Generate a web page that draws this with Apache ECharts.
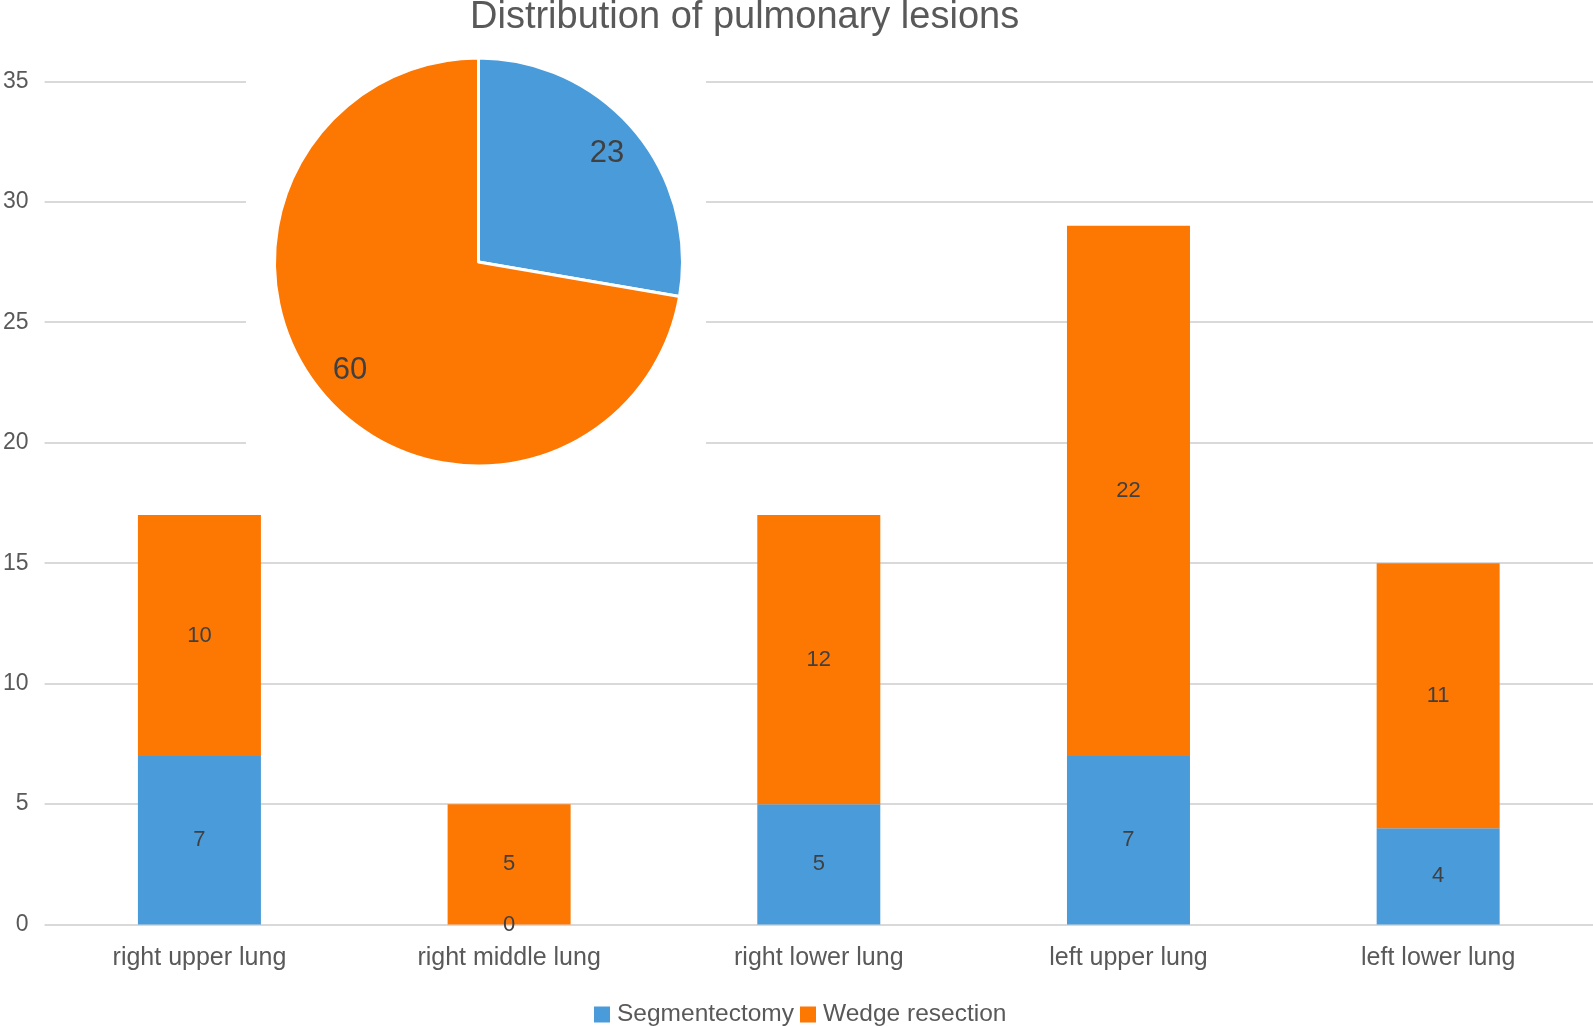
<!DOCTYPE html>
<html>
<head>
<meta charset="utf-8">
<script src="https://cdn.jsdelivr.net/npm/echarts@6/dist/echarts.min.js"></script>
<style>
html,body{margin:0;padding:0;background:#fff;}
#chart{width:1593px;height:1026px;}
</style>
</head>
<body>
<div id="chart"></div>
<script>
const categories = ['right upper lung', 'right middle lung', 'right lower lung', 'left upper lung', 'left lower lung'];
const segmentectomy = [7, 0, 5, 7, 4];
const wedgeResection = [10, 5, 12, 22, 11];
const pieNames = ['Segmentectomy', 'Wedge resection'];
const pieValues = [23, 60];
const yTicks = [0, 5, 10, 15, 20, 25, 30, 35];

const BLUE = '#4a9bda';
const ORANGE = '#fd7703';
const FONT = 'Liberation Sans, Arial, sans-serif';

const pieData = pieNames.map((n, i) => ({ name: n, value: pieValues[i], itemStyle: { color: i === 0 ? BLUE : ORANGE } }));

const chart = echarts.init(document.getElementById('chart'));
chart.setOption({
  backgroundColor: '#fff',
  animation: false,
  textStyle: { fontFamily: FONT },
  title: {
    text: 'Distribution of pulmonary lesions',
    left: 465, top: -6,
    textStyle: { fontFamily: FONT, fontSize: 38, fontWeight: 'normal', color: '#595959' }
  },
  legend: {
    data: ['Segmentectomy', 'Wedge resection'],
    left: 589, top: 997,
    icon: 'rect', itemWidth: 16, itemHeight: 16, itemGap: 6,
    textStyle: { fontFamily: FONT, fontSize: 24.5, color: '#595959', padding: [0, 0, 0, 2] }
  },
  grid: { left: 43, right: 0, top: 81.3, bottom: 101.4, containLabel: false },
  xAxis: {
    type: 'category', data: categories,
    axisLine: { show: false }, axisTick: { show: false },
    axisLabel: { fontFamily: FONT, fontSize: 25, color: '#595959', margin: 21 }
  },
  yAxis: {
    type: 'value', min: yTicks[0], max: yTicks[yTicks.length - 1], interval: 5,
    axisLine: { show: false }, axisTick: { show: false },
    axisLabel: { fontFamily: FONT, fontSize: 23, color: '#595959', margin: 16 },
    splitLine: { lineStyle: { color: '#d9d9d9', width: 2 } }
  },
  graphic: [{
    type: 'rect', z: 1, silent: true,
    shape: { x: 246, y: 40, width: 460, height: 430 },
    style: { fill: '#fff' }
  }],
  series: [
    {
      name: 'Segmentectomy', type: 'bar', stack: 'total', data: segmentectomy, barWidth: 123, z: 3,
      itemStyle: { color: BLUE },
      label: { show: true, position: 'inside', fontFamily: FONT, fontSize: 22, color: '#404040' }
    },
    {
      name: 'Wedge resection', type: 'bar', stack: 'total', data: wedgeResection, barWidth: 123, z: 3,
      itemStyle: { color: ORANGE },
      label: { show: true, position: 'inside', fontFamily: FONT, fontSize: 22, color: '#404040' }
    },
    {
      name: 'Lesions', type: 'pie', center: [478.5, 262], radius: [0, 204], z: 4,
      startAngle: 90, clockwise: true,
      data: pieData,
      itemStyle: { borderColor: '#fff', borderWidth: 3 },
      label: { show: false }, labelLine: { show: false }, silent: true
    },
    {
      name: 'LesionsLabels', type: 'pie', center: [478.5, 262], radius: [126, 204], z: 5,
      startAngle: 90, clockwise: true,
      data: pieNames.map((n, i) => ({ name: n, value: pieValues[i] })),
      itemStyle: { color: 'rgba(0,0,0,0)' },
      label: { show: true, position: 'inside', formatter: '{c}', fontFamily: FONT, fontSize: 31, color: '#404040' },
      labelLine: { show: false }, silent: true, emphasis: { disabled: true }
    }
  ]
});
</script>
</body>
</html>
